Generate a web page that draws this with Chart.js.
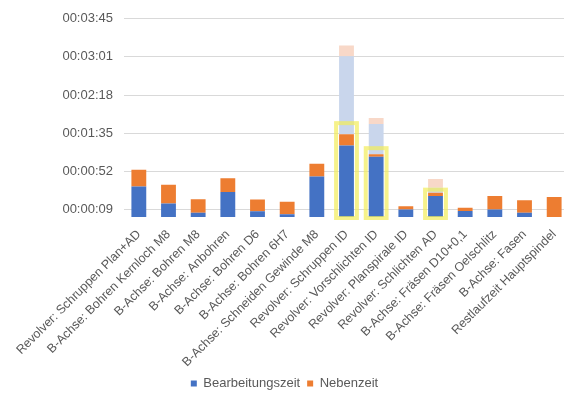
<!DOCTYPE html>
<html>
<head>
<meta charset="utf-8">
<script src="https://cdn.jsdelivr.net/npm/chart.js@4"></script>
<style>
  html, body { margin: 0; padding: 0; background: #fff; overflow: hidden; }
  #wrap { width: 572px; height: 400px; position: relative; }
</style>
</head>
<body>
<div id="wrap"><canvas id="chart"></canvas></div>
<script>
const categories = [
  "Revolver: Schruppen Plan+AD",
  "B-Achse: Bohren Kernloch M8",
  "B-Achse: Bohren M8",
  "B-Achse: Anbohren",
  "B-Achse: Bohren D6",
  "B-Achse: Bohren 6H7",
  "B-Achse: Schneiden Gewinde M8",
  "Revolver: Schruppen ID",
  "Revolver: Vorschlichten ID",
  "Revolver: Planspirale ID",
  "Revolver: Schlichten AD",
  "B-Achse: Fräsen D10+0,1",
  "B-Achse: Fräsen Oelschlitz",
  "B-Achse: Fasen",
  "Restlaufzeit Hauptspindel"
];

// seconds
const bearbeitungszeit = [34.6, 15.3, 4.8, 28.3, 6.4, 3.0, 45.8, 80.9, 68.2, 8.6, 23.8, 6.7, 8.6, 4.8, 0];
const nebenzeit        = [19.0, 21.2, 15.3, 15.6, 13.4, 14.2, 14.5, 13.0, 3.0, 3.7, 3.8, 3.7, 15.2, 14.2, 22.7];
// faded previous times on top of the highlighted steps
const bearbeitungszeitAlt = [null, null, null, null, null, null, null, 88.3, 34.2, null, 5.5, null, null, null, null];
const nebenzeitAlt        = [null, null, null, null, null, null, null, 12.3, 6.7, null, 10.0, null, null, null, null];

const highlighted = [7, 8, 10];

// Excel style ticks: 0.0001 day + n * 0.0005 day
const yTicks = [8.64, 51.84, 95.04, 138.24, 181.44, 224.64];

const fmtTime = (sec) => {
  const s = Math.round(sec);
  const p = (n) => String(n).padStart(2, "0");
  return p(Math.floor(s / 3600)) + ":" + p(Math.floor(s / 60) % 60) + ":" + p(s % 60);
};

const highlightBoxes = {
  id: "highlightBoxes",
  afterDatasetsDraw(chart, args, opts) {
    const ctx = chart.ctx;
    const base = chart.scales.y.getPixelForValue(0);
    ctx.save();
    ctx.strokeStyle = "rgba(242, 236, 90, 0.7)";
    ctx.lineWidth = 4;
    highlighted.forEach((i, k) => {
      const bar = chart.getDatasetMeta(0).data[i];
      const top = Math.min(chart.getDatasetMeta(0).data[i].y, chart.getDatasetMeta(1).data[i].y);
      const pad = opts.pads[k];
      const w = bar.width;
      ctx.strokeRect(bar.x - w / 2 - 3, top - pad + 2, w + 6, base - top + pad - 1);
    });
    ctx.restore();
  }
};

Chart.defaults.font.family = "'Liberation Sans', Arial, sans-serif";

new Chart(document.getElementById("chart"), {
  type: "bar",
  data: {
    labels: categories,
    datasets: [
      { label: "Bearbeitungszeit", data: bearbeitungszeit, backgroundColor: "#4472C4" },
      { label: "Nebenzeit", data: nebenzeit, backgroundColor: "#ED7D31" },
      { label: "Bearbeitungszeit alt", data: bearbeitungszeitAlt, backgroundColor: "#C9D6EC" },
      { label: "Nebenzeit alt", data: nebenzeitAlt, backgroundColor: "#F8D8C8" }
    ]
  },
  plugins: [highlightBoxes],
  options: {
    responsive: true,
    maintainAspectRatio: false,
    animation: false,
    layout: { padding: { top: 10, right: 3, bottom: 0, left: 0 } },
    datasets: {
      bar: { categoryPercentage: 1, barPercentage: 0.5 }
    },
    plugins: {
      highlightBoxes: { pads: [13, 8, 5] },
      tooltip: { enabled: false },
      legend: {
        position: "bottom",
        labels: {
          filter: (item) => item.datasetIndex < 2,
          boxWidth: 6,
          boxHeight: 6,
          padding: 7,
          color: "#595959",
          font: { size: 13 }
        }
      }
    },
    scales: {
      x: {
        stacked: true,
        grid: { display: false },
        border: { display: false },
        ticks: {
          autoSkip: false,
          maxRotation: 45,
          minRotation: 45,
          padding: 2,
          color: "#595959",
          font: { size: 12.5 }
        },
        afterFit: (scale) => { scale.height = 153; }
      },
      y: {
        stacked: true,
        min: 0,
        max: yTicks[yTicks.length - 1],
        afterBuildTicks: (scale) => { scale.ticks = yTicks.map(v => ({ value: v })); },
        afterFit: (scale) => { scale.width = 124; },
        grid: { color: "#D9D9D9", drawTicks: false },
        border: { display: false },
        ticks: {
          padding: 11,
          color: "#595959",
          font: { size: 13 },
          callback: (v) => fmtTime(v)
        }
      }
    }
  }
});
</script>
</body>
</html>
